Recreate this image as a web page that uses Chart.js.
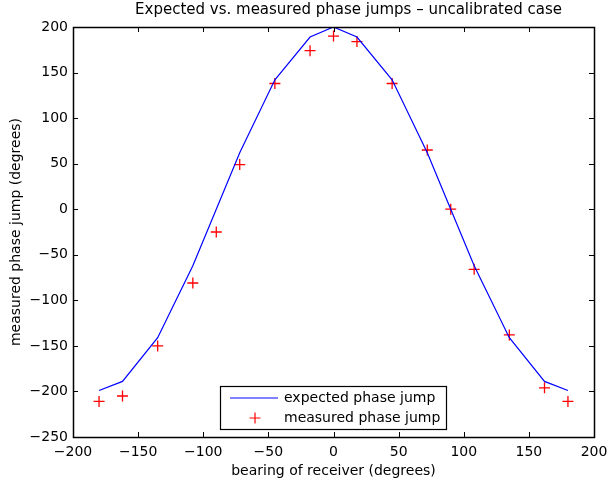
<!DOCTYPE html>
<html>
<head>
<meta charset="utf-8">
<script src="https://cdn.jsdelivr.net/npm/chart.js@4.4.0/dist/chart.umd.min.js"></script>
<style>
html,body{margin:0;padding:0;background:#fff;}
#wrap{width:609px;height:484px;position:relative;}
</style>
</head>
<body>
<div id="wrap"><canvas id="c" width="609" height="484"></canvas></div>
<script>
const bearings = [-180, -162, -135, -108, -90, -72, -45, -18, 0, 18, 45, 72, 90, 108, 135, 162, 180];
const expectedJump = [-199, -189, -141, -62, 0, 62, 142, 189, 200, 189, 142, 62, 0, -62, -141, -189, -199];
const measuredJump = [-211, -205, -150, -81, -25, 49, 138, 174, 190, 184, 138, 65, 0, -66, -138, -196, -211];
const xTicks = [-200, -150, -100, -50, 0, 50, 100, 150, 200];
const yTicks = [-250, -200, -150, -100, -50, 0, 50, 100, 150, 200];
const titleText = 'Expected vs. measured phase jumps \u2013 uncalibrated case';
const xLabel = 'bearing of receiver (degrees)';
const yLabel = 'measured phase jump (degrees)';
const seriesNames = ['expected phase jump', 'measured phase jump'];

const FONT = '"DejaVu Sans", Arial, sans-serif';
const FS = 14;

const boxPlugin = {
  id: 'matlabBox',
  afterDraw(chart) {
    const ctx = chart.ctx;
    const a = chart.chartArea;
    const xs = chart.scales.x, ys = chart.scales.y;
    ctx.save();
    ctx.strokeStyle = '#000';
    ctx.lineWidth = 1;
    ctx.beginPath();
    const tl = 5;
    xTicks.forEach(v => {
      const px = Math.round(xs.getPixelForValue(v)) + 0.5;
      ctx.moveTo(px, a.bottom); ctx.lineTo(px, a.bottom - tl);
      ctx.moveTo(px, a.top); ctx.lineTo(px, a.top + tl);
    });
    yTicks.forEach(v => {
      const py = Math.round(ys.getPixelForValue(v)) + 0.5;
      ctx.moveTo(a.left, py); ctx.lineTo(a.left + tl, py);
      ctx.moveTo(a.right, py); ctx.lineTo(a.right - tl, py);
    });
    ctx.stroke();
    ctx.lineWidth = 1.5;
    ctx.strokeRect(Math.round(a.left) + 0.5, Math.round(a.top) + 0.5, Math.round(a.right - a.left), Math.round(a.bottom - a.top));
    // title
    ctx.fillStyle = '#000';
    ctx.font = '15px ' + FONT;
    ctx.textAlign = 'center';
    ctx.textBaseline = 'middle';
    ctx.fillText(titleText, (a.left + a.right) / 2 + 15, 10);
    // legend
    ctx.font = FS + 'px ' + FONT;
    const bx = 220.5, by = 386.5, bw = 226, bh = 43;
    ctx.fillStyle = '#fff';
    ctx.fillRect(bx, by, bw, bh);
    ctx.lineWidth = 1.2;
    ctx.strokeStyle = '#000';
    ctx.strokeRect(bx, by, bw, bh);
    const ds = chart.data.datasets;
    ctx.strokeStyle = ds[0].borderColor;
    ctx.lineWidth = 1;
    ctx.beginPath();
    ctx.moveTo(230, 398); ctx.lineTo(278, 398);
    ctx.stroke();
    ctx.strokeStyle = ds[1].borderColor;
    ctx.lineWidth = 1.2;
    ctx.beginPath();
    ctx.moveTo(249.5, 418); ctx.lineTo(260.5, 418);
    ctx.moveTo(255, 412.5); ctx.lineTo(255, 423.5);
    ctx.stroke();
    ctx.fillStyle = '#000';
    ctx.textAlign = 'left';
    ctx.fillText(ds[0].label, 284, 398);
    ctx.fillText(ds[1].label, 284, 418);
    ctx.restore();
  }
};

new Chart(document.getElementById('c'), {
  type: 'scatter',
  data: {
    datasets: [
      {
        label: seriesNames[0],
        data: bearings.map((b, i) => ({x: b, y: expectedJump[i]})),
        showLine: true,
        borderColor: '#0000ff',
        backgroundColor: '#0000ff',
        borderWidth: 1.2,
        pointRadius: 0,
        tension: 0
      },
      {
        label: seriesNames[1],
        data: bearings.map((b, i) => ({x: b, y: measuredJump[i]})),
        showLine: false,
        borderColor: '#ff0000',
        backgroundColor: '#ff0000',
        pointStyle: 'cross',
        pointRadius: 5.5,
        pointHoverRadius: 5.5,
        borderWidth: 1.3
      }
    ]
  },
  options: {
    responsive: false,
    animation: false,
    devicePixelRatio: 1,
    layout: {padding: {top: 27, right: 15, left: 0, bottom: 0}},
    plugins: {legend: {display: false}, tooltip: {enabled: false}, title: {display: false}},
    scales: {
      x: {
        type: 'linear', min: -200, max: 200,
        afterBuildTicks: s => { s.ticks = xTicks.map(v => ({value: v})); },
        afterFit: s => { s.height = 47; s.paddingLeft = 0; s.paddingRight = 0; },
        grid: {display: false, drawTicks: false},
        border: {display: false},
        ticks: {
          autoSkip: false, maxRotation: 0, padding: 7, color: '#000',
          font: {family: FONT, size: FS},
          callback: v => (v < 0 ? '\u2212' + Math.abs(v) : String(v))
        },
        title: {display: true, text: xLabel, color: '#000', font: {family: FONT, size: FS}, padding: {top: 0, bottom: 4}}
      },
      y: {
        type: 'linear', min: -250, max: 200,
        afterBuildTicks: s => { s.ticks = yTicks.map(v => ({value: v})); },
        afterFit: s => { s.width = 73; },
        grid: {display: false, drawTicks: false},
        border: {display: false},
        ticks: {
          autoSkip: false, padding: 5, color: '#000',
          font: {family: FONT, size: FS},
          callback: v => (v < 0 ? '\u2212' + Math.abs(v) : String(v))
        },
        title: {display: true, text: yLabel, color: '#000', font: {family: FONT, size: FS}, padding: {top: 8, bottom: 0}}
      }
    }
  },
  plugins: [boxPlugin]
});
</script>
</body>
</html>
